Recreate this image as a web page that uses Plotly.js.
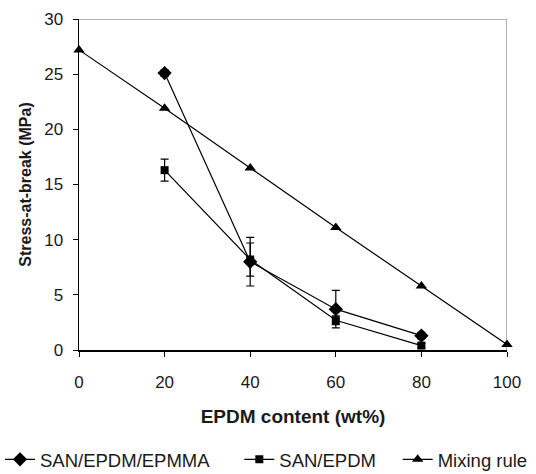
<!DOCTYPE html>
<html><head><meta charset="utf-8">
<script src="https://cdn.plot.ly/plotly-3.0.1.min.js"></script>
<style>html,body{margin:0;padding:0;background:#fff;overflow:hidden}#c{width:536px;height:474px}</style>
</head><body><div id="c"></div>
<script>
const xMix = [0, 20, 40, 60, 80, 100];
const yMix = [27.2, 21.9, 16.5, 11.1, 5.8, 0.5];
const xBlend = [20, 40, 60, 80];
const yEpmma = [25.1, 8.0, 3.7, 1.3];
const errEpmma = [0.3, 2.2, 1.7, 0.3];
const ySanEpdm = [16.3, 8.2, 2.7, 0.4];
const errSanEpdm = [1.0, 1.5, 0.4, 0.2];
const names = ['SAN/EPDM/EPMMA', 'SAN/EPDM', 'Mixing rule'];
const xTicks = [0, 20, 40, 60, 80, 100];
const yTicks = [0, 5, 10, 15, 20, 25, 30];

const line = {color: '#000', width: 1.2};
const eb = (arr) => ({type: 'data', array: arr, visible: true, color: '#000', thickness: 1.2, width: 4});
const traces = [
  {x: xBlend, y: yEpmma, name: names[0], legend: 'legend', mode: 'lines+markers', line: line,
   marker: {symbol: 'diamond', size: 11, color: '#000'}, error_y: eb(errEpmma)},
  {x: xBlend, y: ySanEpdm, name: names[1], legend: 'legend2', mode: 'lines+markers', line: line,
   marker: {symbol: 'square', size: 8, color: '#000'}, error_y: eb(errSanEpdm)},
  {x: xMix, y: yMix, name: names[2], legend: 'legend3', mode: 'lines+markers', line: line,
   marker: {symbol: 'triangle-up', size: 10, color: '#000'}}
];
traces.forEach(t => t.cliponaxis = false);

const fam = 'Liberation Sans, Arial, sans-serif';
const txt = '#1a1a1a';
const leg = (x) => ({orientation: 'h', xref: 'container', yref: 'container', x: x, y: 0.03,
           xanchor: 'left', yanchor: 'middle', font: {size: 18.5, family: fam, color: txt},
           itemwidth: 30, bgcolor: 'rgba(0,0,0,0)'});
const layout = {
  width: 536, height: 474,
  margin: {l: 79, r: 29, t: 19, b: 124},
  paper_bgcolor: '#fff', plot_bgcolor: '#fff',
  font: {family: fam, color: txt},
  showlegend: true,
  legend: leg(-0.005),
  legend2: leg(0.4465),
  legend3: leg(0.742),
  xaxis: {range: [0, 100], tickvals: xTicks, ticks: 'outside', ticklen: 5, ticklabelstandoff: 11,
          tickcolor: '#000', showline: true, linecolor: '#000', linewidth: 1.5, showgrid: false,
          zeroline: false, tickfont: {size: 17, family: fam, color: txt},
          title: {text: '<b>EPDM content (wt%)</b>', font: {size: 19, family: fam, color: txt}, standoff: 19}},
  yaxis: {range: [0, 30], tickvals: yTicks, ticks: 'outside', ticklen: 5, ticklabelstandoff: 6,
          tickcolor: '#000', showline: true, linecolor: '#000', linewidth: 1.5, showgrid: false,
          zeroline: false, tickfont: {size: 17, family: fam, color: txt},
          title: {text: '<b>Stress-at-break (MPa)</b>', font: {size: 16, family: fam, color: txt}, standoff: 8}},
  shapes: [
    {type: 'line', xref: 'x', yref: 'y', x0: 0, x1: 100, y0: 30, y1: 30, line: {color: '#999', width: 1.5}, layer: 'below'},
    {type: 'line', xref: 'x', yref: 'y', x0: 100, x1: 100, y0: 0, y1: 30, line: {color: '#999', width: 1.5}, layer: 'below'}
  ]
};
Plotly.newPlot('c', traces, layout, {displayModeBar: false, staticPlot: true});
</script></body></html>
